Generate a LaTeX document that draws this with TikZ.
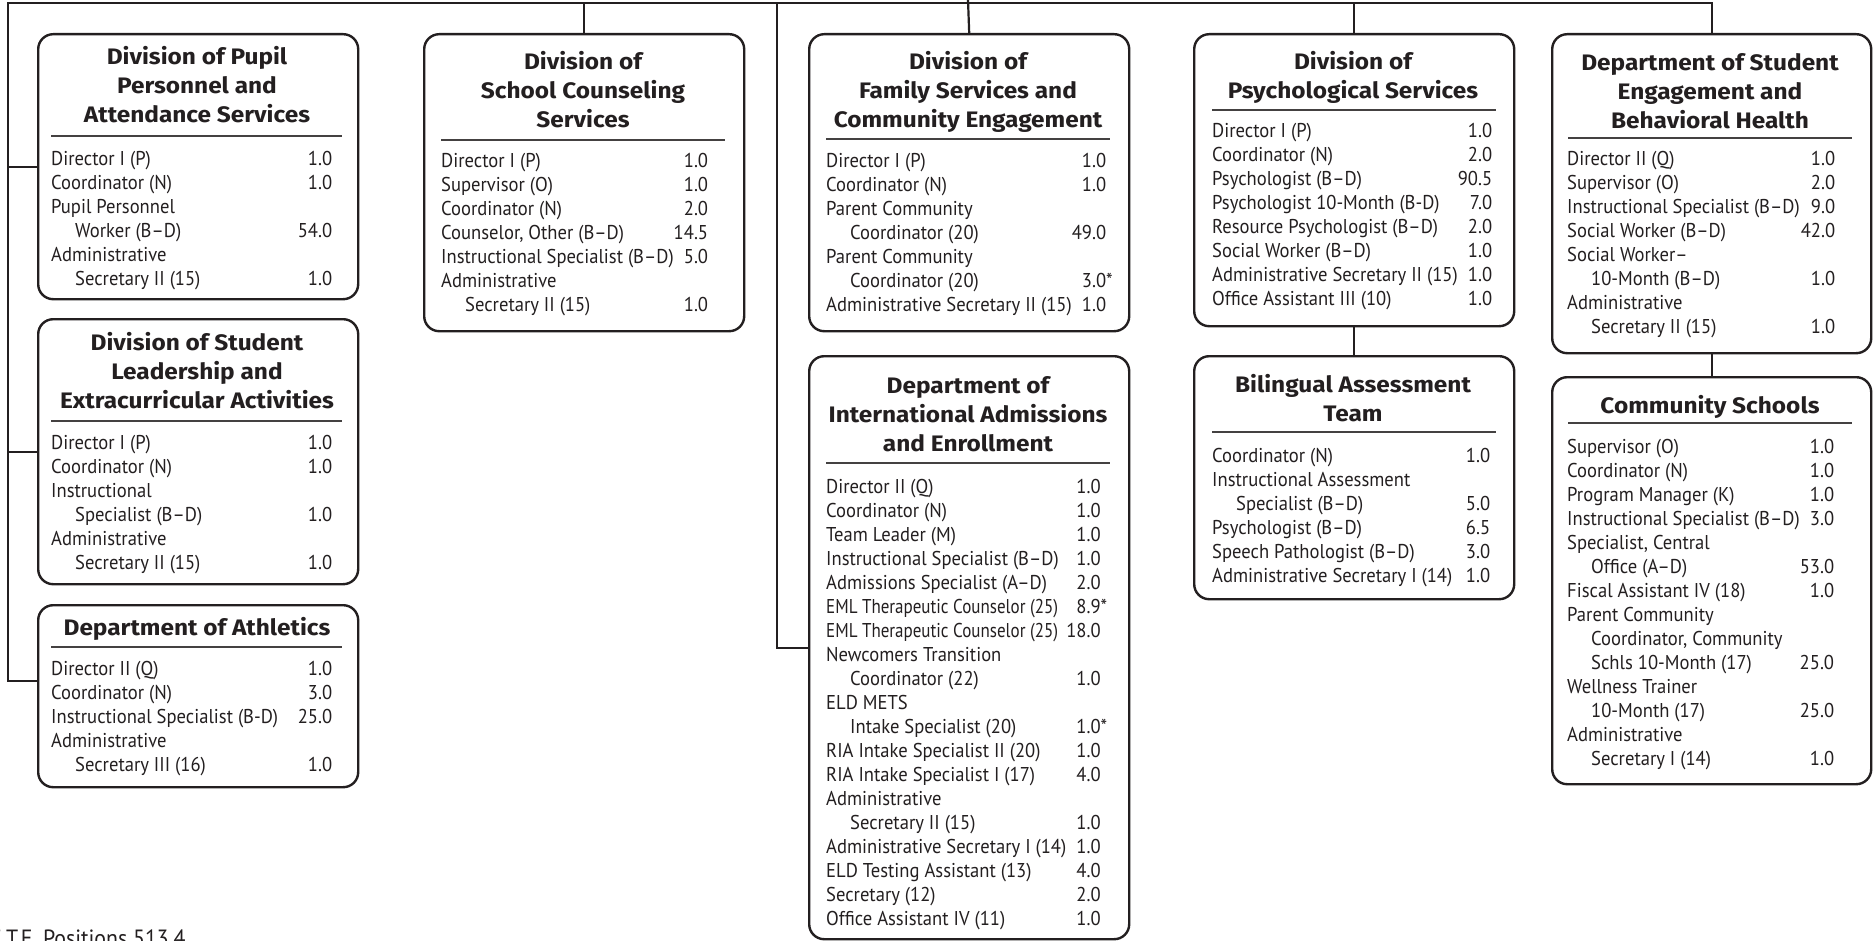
\documentclass[tikz,border=0pt]{standalone}
\usepackage{fontspec}
\newfontfamily\headfont{Fira Sans}[FakeStretch=1.09]
\newfontfamily\listfont{PT Sans}[FakeStretch=0.93]
\newfontfamily\tightfont{PT Sans}[FakeStretch=0.85]
\definecolor{ink}{HTML}{231F20}

\tikzset{
  unit/.style={draw=ink, line width=2.4pt, rounded corners=15pt, inner sep=0pt, fill=white},
  link/.style={draw=ink, line width=2.2pt, line cap=rect},
  divider/.style={draw=ink!85, line width=1.1pt},
  headtext/.style={inner sep=0pt, text=ink, font=\fontsize{22.4}{29}\selectfont\headfont\bfseries},
  listtext/.style={inner sep=0pt, text=ink, font=\fontsize{20}{24}\selectfont\listfont},
}

% frame of one unit: name, left, top, right, bottom
\newcommand\unitbox[5]{%
  \node[unit, anchor=north west, minimum width={(#4-#2)*1pt}, minimum height={(#5-#3)*1pt}] (#1) at (#2,#3) {};}
% centred heading: centre x, first baseline, lines
\newcommand\unithead[3]{%
  \node[headtext, anchor=base] at (#1,#2) {\begin{tabular}[t]{@{}c@{}}#3\end{tabular}};}
% staff list: left x, right x of figures, first baseline, rows
\newcommand\unitlist[4]{%
  \node[listtext, anchor=base west] at (#1,#3)
    {\begin{tabular*}{\dimexpr#2pt-#1pt\relax}[t]{@{}l@{\extracolsep{\fill}}r@{}}#4\end{tabular*}};}
\newcommand\ind{\hspace*{24pt}}
\newcommand\starred[1]{#1\rlap{*}}

\begin{document}
\begin{tikzpicture}[x=1pt,y=-1pt]
\useasboundingbox (0,0) rectangle (1873,941);

% ---------- unit frames ----------
\unitbox{b1}{37}{33}{357}{298}
\unitbox{b2}{37}{318}{357}{583}
\unitbox{b3}{37}{604}{357}{786}
\unitbox{b4}{423}{33}{743}{330}
\unitbox{b5}{808}{33}{1128}{330}
\unitbox{b6}{808}{355}{1128}{938}
\unitbox{b7}{1193}{33}{1513}{325}
\unitbox{b8}{1193}{355}{1513}{598}
\unitbox{b9}{1551}{33}{1870}{352}
\unitbox{b10}{1551}{376}{1870}{783}

% ---------- connectors ----------
\coordinate (busL) at (8,3);
\coordinate (spine) at (777,3);
\coordinate (feed) at (968,0);
\draw[link] (busL) -- (b9.north |- busL);
\draw[link] (busL) |- ([yshift=15pt]b3.west);
\draw[link] (b1.west -| busL) -- (b1.west);
\draw[link] (b2.west -| busL) -- (b2.west);
\draw[link] (b4.north |- busL) -- (b4.north);
\draw[link] (feed) -- (b5.north);
\draw[link] (spine) |- (b6.west);
\draw[link] (b7.north |- busL) -- (b7.north);
\draw[link] (b7.south) -- (b8.north);
\draw[link] (b9.north |- busL) -- (b9.north);
\draw[link] (b9.south) -- (b10.north);

% ---------- Pupil Personnel ----------
\unithead{197}{65}{Division of Pupil\\Personnel and\\Attendance Services}
\draw[divider] (51,136) -- (342,136);
\unitlist{51}{332}{166}{%
Director I (P) & 1.0\\
Coordinator (N) & 1.0\\
Pupil Personnel & \\
\ind Worker (B–D) & 54.0\\
Administrative & \\
\ind Secretary II (15) & 1.0}

% ---------- Student Leadership ----------
\unithead{197}{350}{Division of Student\\Leadership and\\Extracurricular Activities}
\draw[divider] (51,421) -- (342,421);
\unitlist{51}{332}{449}{%
Director I (P) & 1.0\\
Coordinator (N) & 1.0\\
Instructional & \\
\ind Specialist (B–D) & 1.0\\
Administrative & \\
\ind Secretary II (15) & 1.0}

% ---------- Athletics ----------
\unithead{197}{635}{Department of Athletics}
\draw[divider] (51,647) -- (342,647);
\unitlist{51}{332}{675}{%
Director II (Q) & 1.0\\
Coordinator (N) & 3.0\\
Instructional Specialist (B-D) & 25.0\\
Administrative & \\
\ind Secretary III (16) & 1.0}

% ---------- School Counseling ----------
\unithead{583}{70}{Division of\\School Counseling\\Services}
\draw[divider] (441,140) -- (725,140);
\unitlist{441}{703}{168}{%
Director I (P) & 1.0\\
Supervisor (O) & 1.0\\
Coordinator (N) & 2.0\\
Counselor, Other (B–D) & 14.5\\
Instructional Specialist (B–D) & 5.0\\
Administrative & \\
\ind Secretary II (15) & 1.0}

% ---------- Family Services ----------
\unithead{968}{70}{Division of\\Family Services and\\Community Engagement}
\draw[divider] (826,139) -- (1110,139);
\unitlist{826}{1098}{168}{%
Director I (P) & 1.0\\
Coordinator (N) & 1.0\\
Parent Community & \\
\ind Coordinator (20) & 49.0\\
Parent Community & \\
\ind Coordinator (20) & \starred{3.0}\\
Administrative Secretary II (15) & 1.0}

% ---------- International Admissions ----------
\unithead{968}{393}{Department of\\International Admissions\\and Enrollment}
\draw[divider] (826,463) -- (1110,463);
\unitlist{826}{1097}{493}{%
Director II (Q) & 1.0\\
Coordinator (N) & 1.0\\
Team Leader (M) & 1.0\\
Instructional Specialist (B–D) & 1.0\\
Admissions Specialist (A–D) & 2.0\\
{\tightfont EML Therapeutic Counselor (25)} & \starred{8.9}\\
{\tightfont EML Therapeutic Counselor (25)} & 18.0\\
Newcomers Transition & \\
\ind Coordinator (22) & 1.0\\
ELD METS & \\
\ind Intake Specialist (20) & \starred{1.0}\\
RIA Intake Specialist II (20) & 1.0\\
RIA Intake Specialist I (17) & 4.0\\
Administrative & \\
\ind Secretary II (15) & 1.0\\
Administrative Secretary I (14) & 1.0\\
ELD Testing Assistant (13) & 4.0\\
Secretary (12) & 2.0\\
Office Assistant IV (11) & 1.0}

% ---------- Psychological Services ----------
\unithead{1353}{70}{Division of\\Psychological Services}
\draw[divider] (1212,110) -- (1496,110);
\unitlist{1212}{1490}{138}{%
Director I (P) & 1.0\\
Coordinator (N) & 2.0\\
Psychologist (B–D) & 90.5\\
Psychologist 10-Month (B-D) & 7.0\\
Resource Psychologist (B–D) & 2.0\\
Social Worker (B–D) & 1.0\\
Administrative Secretary II (15) & 1.0\\
Office Assistant III (10) & 1.0}

% ---------- Bilingual Assessment ----------
\unithead{1353}{392}{Bilingual Assessment\\Team}
\draw[divider] (1212,432) -- (1496,432);
\unitlist{1212}{1490}{462}{%
Coordinator (N) & 1.0\\
Instructional Assessment & \\
\ind Specialist (B–D) & 5.0\\
Psychologist (B–D) & 6.5\\
Speech Pathologist (B–D) & 3.0\\
Administrative Secretary I (14) & 1.0}

% ---------- Student Engagement ----------
\unithead{1710}{71}{Department of Student\\Engagement and\\Behavioral Health}
\draw[divider] (1568,138) -- (1852,138);
\unitlist{1567}{1835}{166}{%
Director II (Q) & 1.0\\
Supervisor (O) & 2.0\\
Instructional Specialist (B–D) & 9.0\\
Social Worker (B–D) & 42.0\\
Social Worker– & \\
\ind 10-Month (B–D) & 1.0\\
Administrative & \\
\ind Secretary II (15) & 1.0}

% ---------- Community Schools ----------
\unithead{1710}{413}{Community Schools}
\draw[divider] (1568,423) -- (1852,423);
\unitlist{1567}{1830}{453}{%
Supervisor (O) & 1.0\\
Coordinator (N) & 1.0\\
Program Manager (K) & 1.0\\
Instructional Specialist (B–D) & 3.0\\
Specialist, Central & \\
\ind Office (A–D) & 53.0\\
Fiscal Assistant IV (18) & 1.0\\
Parent Community & \\
\ind Coordinator, Community & \\
\ind Schls 10-Month (17) & 25.0\\
Wellness Trainer & \\
\ind 10-Month (17) & 25.0\\
Administrative & \\
\ind Secretary I (14) & 1.0}

% ---------- total ----------
\node[listtext, font=\fontsize{23.5}{28}\selectfont\listfont, anchor=base west] (fte) at (6,946.5) {\llap{F.}T.E. Positions 513.4};
\end{tikzpicture}
\end{document}
